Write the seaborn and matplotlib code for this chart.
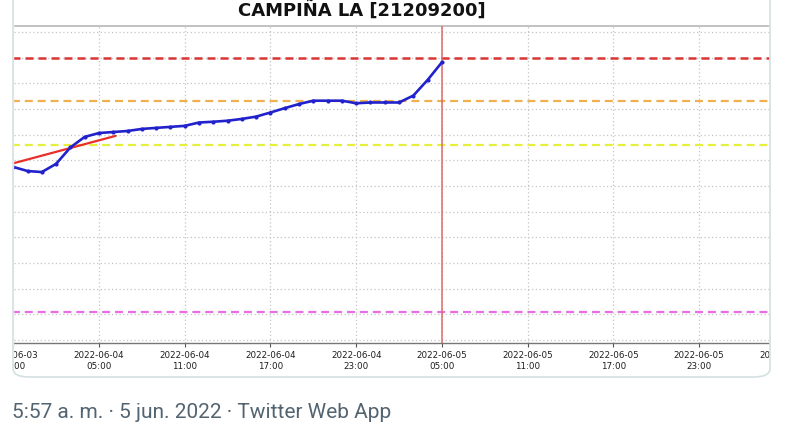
import matplotlib
matplotlib.use("Agg")
import matplotlib.pyplot as plt
import matplotlib.dates as mdates
from matplotlib.patches import Rectangle, FancyBboxPatch
import pandas as pd
import seaborn as sns

# Hourly river level readings (relative units), 2022-06-03 23:00 -> 2022-06-05 05:00
times = pd.date_range("2022-06-03 23:00", "2022-06-05 05:00", freq="h")
level = [6.74, 6.58, 6.54, 6.86, 7.50, 7.91, 8.06, 8.10, 8.14, 8.22, 8.26,
         8.30, 8.34, 8.47, 8.50, 8.54, 8.61, 8.70, 8.86, 9.03, 9.19, 9.32,
         9.32, 9.32, 9.22, 9.25, 9.25, 9.25, 9.52, 10.13, 10.82]

# Red trend segment
trend_times = pd.to_datetime(["2022-06-03 23:00", "2022-06-04 06:10"])
trend_level = [6.88, 7.95]

# Threshold levels
thr_red = 10.97
thr_orange = 9.32
thr_yellow = 7.60
thr_magenta = 1.08

now = pd.Timestamp("2022-06-05 05:00")

df = pd.DataFrame({"time": times, "level": level})
df_trend = pd.DataFrame({"time": trend_times, "level": trend_level})

sns.set_style("white")
fig = plt.figure(figsize=(8, 4.3), dpi=100)

# axes is wider than the visible card; edges get masked below (cropped screenshot look)
W, H = 800, 430
px_per_h = 14.29
x0 = 13.25 - px_per_h
ax = fig.add_axes([x0 / W, 1 - 343 / H, 57 * px_per_h / W, (343 - 26) / H])

ax.set_xlim(pd.Timestamp("2022-06-03 22:00"), pd.Timestamp("2022-06-06 07:00"))
ax.set_ylim(-0.12, 12.23)

# gridlines
ax.set_yticks(range(0, 13))
ax.xaxis.set_major_locator(mdates.HourLocator(byhour=[5, 11, 17, 23]))
ax.xaxis.set_major_formatter(mdates.DateFormatter("%Y-%m-%d\n%H:%M"))
ax.grid(True, linestyle=(0, (1, 2)), color="#c4c4c4", linewidth=0.9)
ax.tick_params(axis="y", left=False, labelleft=False)
ax.tick_params(axis="x", bottom=True, length=3, width=0.8, color="#555555",
               labelsize=6.3, labelcolor="#1e1e1e", pad=3)

# thresholds
ax.axhline(thr_red, color="#d93535", lw=1.8, ls=(0, (3.2, 2.0)), zorder=2)
ax.axhline(thr_orange, color="#f0b050", lw=1.6, ls=(0, (3.6, 2.2)), zorder=2)
ax.axhline(thr_yellow, color="#e6f03c", lw=1.6, ls=(0, (3.6, 2.2)), zorder=2)
ax.axhline(thr_magenta, color="#e86ee8", lw=1.6, ls=(0, (3.6, 2.2)), zorder=2)

# current time marker
ax.axvline(now, color="#e06a6a", lw=1.1, zorder=3)

sns.lineplot(data=df_trend, x="time", y="level", ax=ax, color="#e8302a",
             lw=1.6, zorder=4)
sns.lineplot(data=df, x="time", y="level", ax=ax, color="#2222cc", lw=1.9,
             marker="o", markersize=3.0, markeredgewidth=0, zorder=5)
ax.set_xlabel("")
ax.set_ylabel("")

for side in ["left", "right"]:
    ax.spines[side].set_visible(False)
ax.spines["top"].set_color("#b8b8b8")
ax.spines["top"].set_linewidth(1.2)
ax.spines["bottom"].set_color("#777777")
ax.spines["bottom"].set_linewidth(1.0)

# mask outside the tweet card
fig.add_artist(Rectangle((0, 1 - 378 / H), 12.5 / W, 378 / H,
                         transform=fig.transFigure, color="white", zorder=5))
fig.add_artist(Rectangle((770 / W, 1 - 378 / H), 30 / W, 378 / H,
                         transform=fig.transFigure, color="white", zorder=5))
card = FancyBboxPatch((13 / W, 1 - 377 / H), (770 - 13) / W, 400 / H,
                      boxstyle="round,pad=0,rounding_size=0.02",
                      transform=fig.transFigure, fc="none", ec="#d6e0e2",
                      lw=1.2, zorder=6)
fig.add_artist(card)

fig.text(362 / W, 1 - 11.5 / H, "CAMPIÑA LA [21209200]", ha="center", va="center",
         fontsize=13, fontweight="bold", family="DejaVu Sans", color="#111111")

fig.text(12 / W, 1 - 413 / H, "5:57 a. m. · 5 jun. 2022 · Twitter Web App",
         ha="left", va="center", fontsize=15, family="Roboto", color="#536471")

fig.savefig("out.png", dpi=100)
